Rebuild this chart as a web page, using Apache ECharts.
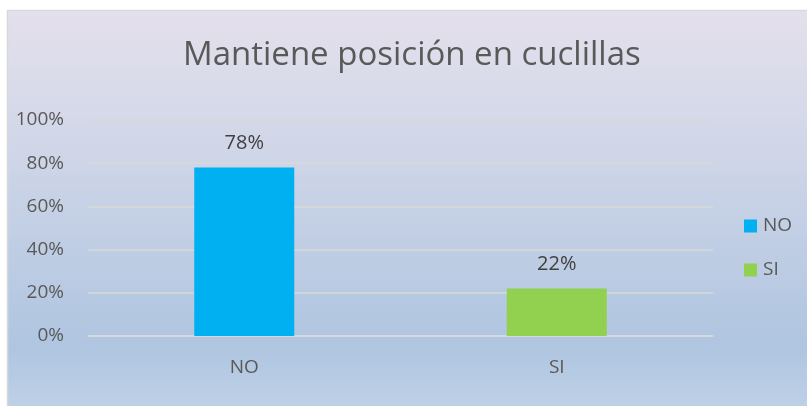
<!DOCTYPE html>
<html><head><meta charset="utf-8">
<script src="https://cdn.jsdelivr.net/npm/echarts@6/dist/echarts.min.js"></script>
<style>html,body{margin:0;padding:0;background:#fff}#c{width:807px;height:406px}</style>
</head><body><div id="c"></div>
<script>
const categories = ['NO', 'SI'];
const seriesNames = ['NO', 'SI'];
const values = [0.78, 0.22];
const colors = ['#00B0F0', '#92D050'];
const yTicks = [0, 0.2, 0.4, 0.6, 0.8, 1.0];

const chart = echarts.init(document.getElementById('c'));
const font = '"Open Sans", "Noto Sans", sans-serif';
const series = seriesNames.map((name, i) => ({
  name: name,
  type: 'bar',
  data: categories.map((c, j) => j === i ? values[i] : null),
  barWidth: '32%',
  barGap: '-100%',
  itemStyle: { color: colors[i] },
  label: {
    show: true, position: 'top', distance: 14,
    formatter: p => Math.round(p.value * 100) + '%',
    color: '#404040', fontSize: 20, fontFamily: font
  }
}));
chart.setOption({
  animation: false,
  graphic: [{
    type: 'rect', z: -10, silent: true,
    shape: { x: 7.5, y: 10.5, width: 820, height: 420 },
    style: {
      fill: new echarts.graphic.LinearGradient(0, 0, 0, 1, [
        { offset: 0, color: '#E4E0EC' },
        { offset: 0.25, color: '#D5D9E9' },
        { offset: 0.8, color: '#AFC5E0' },
        { offset: 1, color: '#C4D5E9' }
      ]),
      stroke: '#D9D9D9', lineWidth: 1.5
    }
  }],
  title: {
    text: 'Mantiene posición en cuclillas',
    left: 178, top: 34,
    textStyle: { fontFamily: font, fontSize: 33, fontWeight: 'normal', color: '#595959' }
  },
  legend: {
    orient: 'vertical', left: 744, top: 216, padding: 0,
    itemWidth: 13, itemHeight: 13, itemGap: 24,
    icon: 'rect',
    textStyle: { fontFamily: font, fontSize: 19, color: '#595959', lineHeight: 20, padding: [0, 0, 0, 1] },
    data: seriesNames
  },
  grid: { left: 88, right: 94, top: 120, bottom: 70, containLabel: false },
  xAxis: {
    type: 'category', data: categories,
    axisLine: { show: true, lineStyle: { color: '#D9D9D9', width: 1.5 } },
    axisTick: { show: false },
    axisLabel: { fontFamily: font, fontSize: 19, color: '#595959', margin: 22 }
  },
  yAxis: {
    type: 'value', min: yTicks[0], max: yTicks[yTicks.length - 1], interval: 0.2,
    axisLine: { show: false }, axisTick: { show: false },
    splitLine: { lineStyle: { color: '#D9D9D9', width: 1.5 } },
    axisLabel: {
      fontFamily: font, fontSize: 19, color: '#595959', margin: 24,
      formatter: v => Math.round(v * 100) + '%'
    }
  },
  series: series
});
</script></body></html>
